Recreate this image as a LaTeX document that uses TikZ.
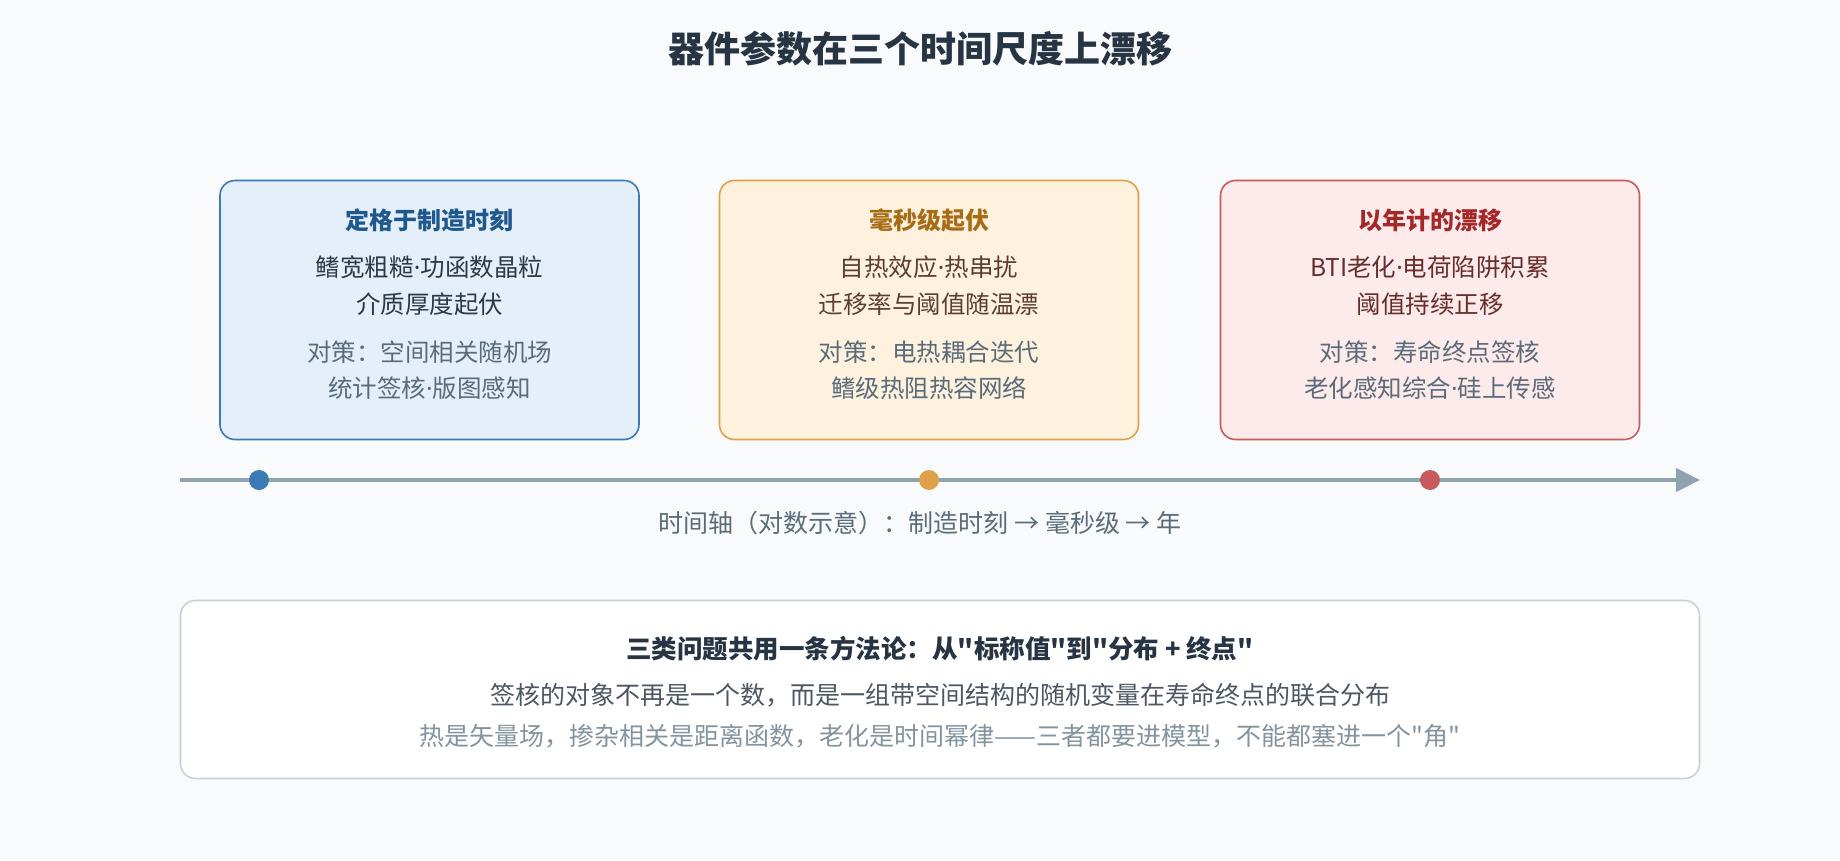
\documentclass[tikz,border=0pt]{standalone}
\usepackage{fontspec}
\setmainfont{Noto Sans CJK SC}[Ligatures=TeXOff]
\newfontfamily\latinfont{Noto Sans}
\usetikzlibrary{positioning}
\usetikzlibrary{arrows.meta}
\newcommand{\mdot}{{\latinfont ·}}
\definecolor{cpage}{RGB}{248,250,252}
\definecolor{cmain}{RGB}{38,52,68}
\definecolor{caxis}{RGB}{143,163,174}
\definecolor{cplan}{RGB}{90,108,122}
\definecolor{cnote}{RGB}{130,148,160}
\definecolor{cframe}{RGB}{200,208,216}
\definecolor{edge1}{RGB}{58,122,181}
\definecolor{back1}{RGB}{228,239,250}
\definecolor{head1}{RGB}{30,88,140}
\definecolor{body1}{RGB}{44,58,72}
\definecolor{edge2}{RGB}{224,160,74}
\definecolor{back2}{RGB}{254,242,223}
\definecolor{head2}{RGB}{168,108,22}
\definecolor{body2}{RGB}{92,62,48}
\definecolor{edge3}{RGB}{200,90,90}
\definecolor{back3}{RGB}{253,234,234}
\definecolor{head3}{RGB}{165,40,40}
\definecolor{body3}{RGB}{104,44,44}
\tikzstyle{stage}=[draw, line width=1.6pt, rounded corners=15pt, minimum width=419pt, minimum height=259pt, inner sep=0pt]
\tikzstyle{stage title}=[font=\bfseries\fontsize{24}{29}\selectfont]
\tikzstyle{stage body}=[align=center, font=\fontsize{24.5}{37}\selectfont]
\tikzstyle{stage plan}=[align=center, text=cplan, font=\fontsize{24.5}{36}\selectfont]
\tikzstyle{time dot}=[circle, inner sep=0pt, minimum size=20pt]
\tikzstyle{axis}=[caxis, line width=4pt, -{Triangle[length=24pt,width=23pt]}]
\tikzstyle{summary}=[draw=cframe, fill=white, line width=1.6pt, rounded corners=15pt, minimum width=1519pt, minimum height=178pt]

\begin{document}
\begin{tikzpicture}[x=1pt, y=-1pt]
  \fill [cpage] (0,0) rectangle (1840,860);
  \useasboundingbox (0,0) rectangle (1840,860);
  \node [text=cmain, font=\bfseries\fontsize{36}{43}\selectfont] (heading) at (920,49) {器件参数在三个时间尺度上漂移};

  \foreach \x/\t/\a/\b/\c/\d [count=\i] in {429.5/定格于制造时刻/鳍宽粗糙\mdot 功函数晶粒/介质厚度起伏/对策：空间相关随机场/统计签核\mdot 版图感知,
      929/毫秒级起伏/自热效应\mdot 热串扰/迁移率与阈值随温漂/对策：电热耦合迭代/鳍级热阻热容网络,
      1430/以年计的漂移/BTI老化\mdot 电荷陷阱积累/阈值持续正移/对策：寿命终点签核/老化感知综合\mdot 硅上传感}{
    \node [stage, draw=edge\i, fill=back\i] (stage-\i) at (\x,310) {};
    \node [stage title, text=head\i] (title-\i) at (\x,220) {\t};
    \node [stage body, text=body\i] (body-\i) at (\x,285.5) {\a\\\b};
    \node [stage plan] (plan-\i) at (\x,370) {\c\\\d};
  }

  \coordinate (axis-l) at (180,480);
  \coordinate (axis-r) at (1700,480);
  \draw [axis] (axis-l) -- (axis-r);
  \foreach \x [count=\i] in {259,929,1430}
    \node [time dot, fill=edge\i] (dot-\i) at (\x,480) {};
  \node [text=cplan, font=\fontsize{25}{30}\selectfont] (axis-label) at (920,523) {时间轴（对数示意）：制造时刻 → 毫秒级 → 年};

  \node [summary] (summary) at (940,689.5) {};
  \node [text=cmain, font=\bfseries\fontsize{25.5}{31}\selectfont] (summary-title) at (940,649) {三类问题共用一条方法论：从"标称值"到"分布 + 终点"};
  \node [text=body1!85, font=\fontsize{25}{30}\selectfont] (summary-main) at (940,695) {签核的对象不再是一个数，而是一组带空间结构的随机变量在寿命终点的联合分布};
  \node [text=cnote, font=\fontsize{25}{30}\selectfont] (summary-note) at (940,736) {热是矢量场，掺杂相关是距离函数，老化是时间幂律——三者都要进模型，不能都塞进一个"角"};
\end{tikzpicture}
\end{document}
